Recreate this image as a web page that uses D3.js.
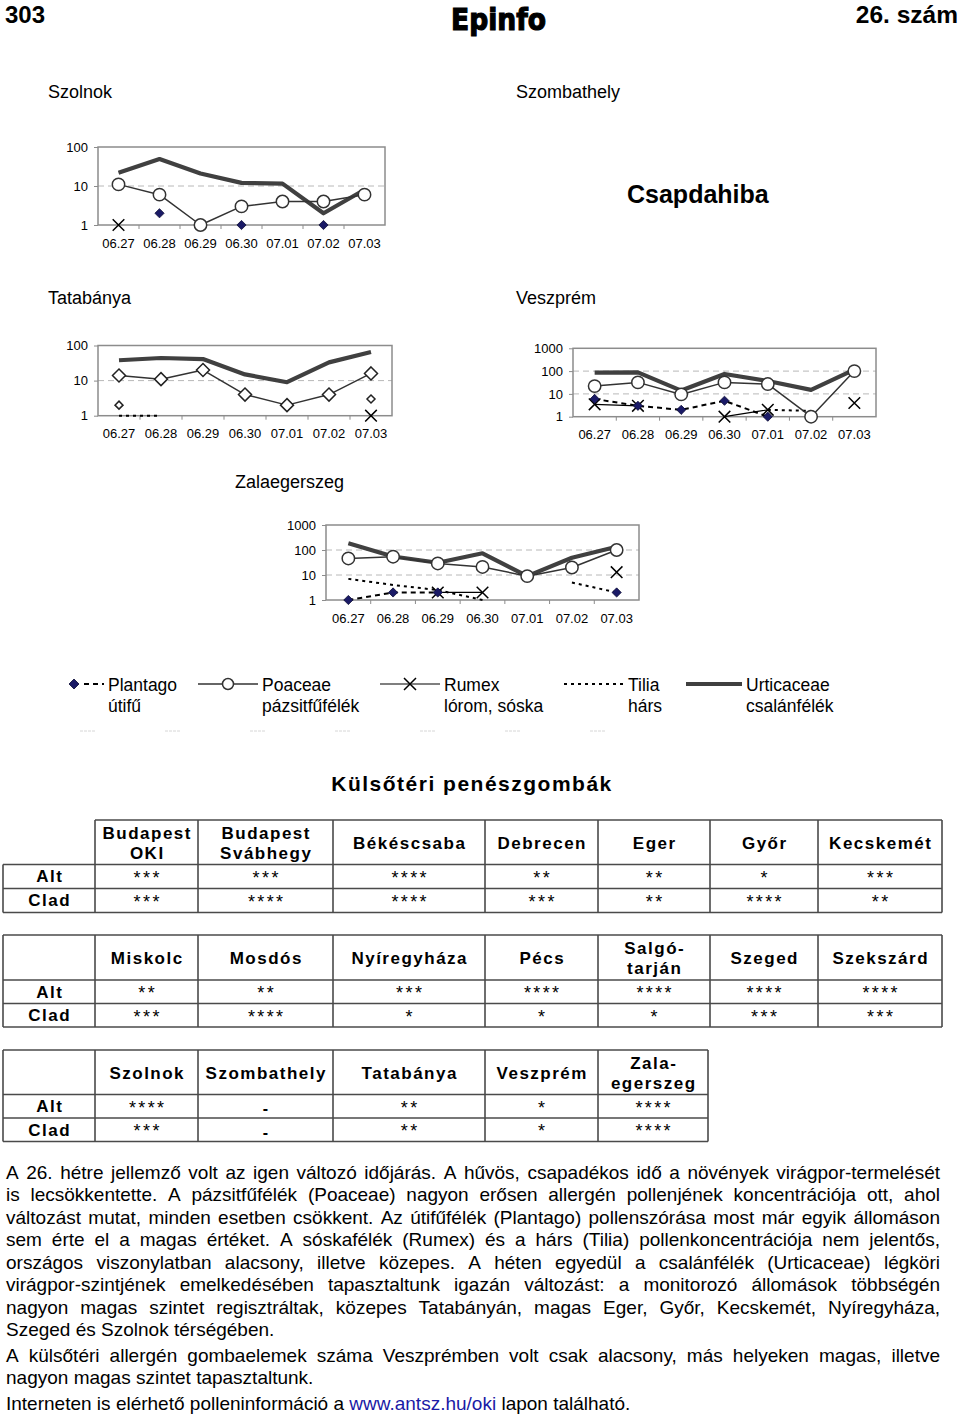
<!DOCTYPE html>
<html><head><meta charset="utf-8">
<script src="https://cdn.jsdelivr.net/npm/d3@7"></script>
<style>
body{margin:0;background:#fff}
svg{display:block}
text{font-family:"Liberation Sans",Arial,Helvetica,sans-serif}
</style>
</head><body>
<svg id="page" width="960" height="1418"></svg>
<script>
// ---------------- DATA ----------------
const dates = ["06.27","06.28","06.29","06.30","07.01","07.02","07.03"];
const yTicks100 = [1,10,100];
const yTicks1000 = [1,10,100,1000];

const szolnokPlantago   = [null,2,null,1,null,1,null];
const szolnokPoaceae    = [11,6,1,3,4,4,6];
const szolnokRumex      = [1,null,null,null,null,null,null];
const szolnokTilia      = [null,null,null,null,null,null,null];
const szolnokUrticaceae = [22,49,21,12,11.5,2,8];

const tatabanyaPlantago   = [2,null,null,null,null,null,3];
const tatabanyaPoaceae    = [14,11,20,4,2,4,16];
const tatabanyaRumex      = [null,null,null,null,null,null,1];
const tatabanyaTilia      = [1,1,null,null,null,null,null];
const tatabanyaUrticaceae = [38,44,41,15,9,33,65];

const veszpremPlantago   = [6,3,2,5,1,null,null];
const veszpremPoaceae    = [22,32,9.5,32,27,1,100];
const veszpremRumex      = [3.5,3,null,1,2,null,4];
const veszpremTilia      = [null,null,null,null,2,1.8,null];
const veszpremUrticaceae = [85,88,14,75,37,15,115];

const zalaPlantago   = [1,2,2,null,null,null,2];
const zalaPoaceae    = [46,54,29,21,9,20,100];
const zalaRumex      = [null,null,2,2,null,null,13];
const zalaTilia      = [7,4,2.5,1,null,5,2];
const zalaUrticaceae = [185,55,31,74,9,49,135];

const legendNames = ["Plantago","Poaceae","Rumex","Tilia","Urticaceae"];
const legendHu    = ["útifű","pázsitfűfélék","lórom, sóska","hárs","csalánfélék"];

const rowLabels = ["Alt","Clad"];
const t1Cities = [["Budapest","OKI"],["Budapest","Svábhegy"],["Békéscsaba"],["Debrecen"],["Eger"],["Győr"],["Kecskemét"]];
const t1Alt  = ["***","***","****","**","**","*","***"];
const t1Clad = ["***","****","****","***","**","****","**"];
const t2Cities = [["Miskolc"],["Mosdós"],["Nyíregyháza"],["Pécs"],["Salgó-","tarján"],["Szeged"],["Szekszárd"]];
const t2Alt  = ["**","**","***","****","****","****","****"];
const t2Clad = ["***","****","*","*","*","***","***"];
const t3Cities = [["Szolnok"],["Szombathely"],["Tatabánya"],["Veszprém"],["Zala-","egerszeg"]];
const t3Alt  = ["****","-","**","*","****"];
const t3Clad = ["***","-","**","*","****"];

const para1 = [
 "A 26. hétre jellemző volt az igen változó időjárás. A hűvös, csapadékos idő a növények virágpor-termelését",
 "is lecsökkentette. A pázsitfűfélék (Poaceae) nagyon erősen allergén pollenjének koncentrációja ott, ahol",
 "változást mutat, minden esetben csökkent. Az útifűfélék (Plantago) pollenszórása most már egyik állomáson",
 "sem érte el a magas értéket. A sóskafélék (Rumex) és a hárs (Tilia) pollenkoncentrációja nem jelentős,",
 "országos viszonylatban alacsony, illetve közepes. A héten egyedül a csalánfélék (Urticaceae) légköri",
 "virágpor-szintjének emelkedésében tapasztaltunk igazán változást: a monitorozó állomások többségén",
 "nagyon magas szintet regisztráltak, közepes Tatabányán, magas Eger, Győr, Kecskemét, Nyíregyháza,",
 "Szeged és Szolnok térségében."
];
const para2 = [
 "A külsőtéri allergén gombaelemek száma Veszprémben volt csak alacsony, más helyeken magas, illetve",
 "nagyon magas szintet tapasztaltunk."
];
const para3 = ["Interneten is elérhető polleninformáció a www.antsz.hu/oki lapon található."];

// ---------------- SETUP ----------------
const svg = d3.select("#page");
const FONT = '"Liberation Sans", Arial, Helvetica, sans-serif';
const tmp = svg.append("text").attr("x",-1000).attr("y",-1000);
function measure(str, size, weight){
  tmp.attr("font-size",size).attr("font-weight",weight||"normal").text(str);
  return tmp.node().getComputedTextLength();
}

// header
svg.append("text").attr("x",5).attr("y",22.5).attr("font-size",24).attr("font-weight","bold").text("303");
svg.append("text").attr("x",958).attr("y",22.5).attr("text-anchor","end").attr("font-size",24.5).attr("font-weight","bold").text("26. szám");
svg.append("text").attr("x",451).attr("y",30).attr("font-size",30).attr("font-weight","bold")
  .attr("stroke","#000").attr("stroke-width",1.2)
  .style("font-family","'DejaVu Sans',sans-serif").attr("textLength",95).attr("lengthAdjust","spacingAndGlyphs").text("Epinfo");

// station titles
const titles = [
  {t:"Szolnok",x:48,y:97.5},{t:"Szombathely",x:516,y:97.5},
  {t:"Tatabánya",x:48,y:303.5},{t:"Veszprém",x:516,y:303.5},
  {t:"Zalaegerszeg",x:235,y:487.5}
];
svg.selectAll(".title").data(titles).join("text").attr("class","title")
  .attr("x",d=>d.x).attr("y",d=>d.y).attr("font-size",18).text(d=>d.t);
svg.append("text").attr("x",627).attr("y",203).attr("font-size",25).attr("font-weight","bold").text("Csapdahiba");

// ---------------- CHARTS ----------------
const seriesStyle = {
  Urticaceae:{stroke:"#404040",width:4.2,dash:null},
  Tilia:{stroke:"#000",width:2,dash:"3,4"},
  Plantago:{stroke:"#000",width:2,dash:"5,4"},
  Rumex:{stroke:"#000",width:1.2,dash:null},
  Poaceae:{stroke:"#333",width:1.5,dash:null}
};
const defaultMarkers = {
  Plantago:{shape:"diamond",size:4.6},
  Rumex:{shape:"x",size:5.8},
  Poaceae:{shape:"circle",size:6.2}
};

function drawMarker(g, shape, size, px, py){
  if(shape==="circle"){
    g.append("circle").attr("cx",px).attr("cy",py).attr("r",size).attr("fill","#fff").attr("stroke","#333").attr("stroke-width",1.5);
  } else if(shape==="diamond"){
    g.append("path").attr("d",`M${px},${py-size}L${px+size},${py}L${px},${py+size}L${px-size},${py}Z`)
      .attr("fill","#1a1a66").attr("stroke","#0a0a33").attr("stroke-width",0.8);
  } else if(shape==="odiamond"){
    g.append("path").attr("d",`M${px},${py-size}L${px+size},${py}L${px},${py+size}L${px-size},${py}Z`)
      .attr("fill","#fff").attr("stroke","#222").attr("stroke-width",1.5);
  } else if(shape==="x"){
    g.append("path").attr("d",`M${px-size},${py-size}L${px+size},${py+size}M${px-size},${py+size}L${px+size},${py-size}`)
      .attr("stroke","#000").attr("stroke-width",1.5).attr("fill","none");
  }
}

const charts = [
  {series:{Plantago:szolnokPlantago,Poaceae:szolnokPoaceae,Rumex:szolnokRumex,Tilia:szolnokTilia,Urticaceae:szolnokUrticaceae},
   ticks:yTicks100,left:98,right:385,top:147,bottom:225,markers:{}},
  {series:{Plantago:tatabanyaPlantago,Poaceae:tatabanyaPoaceae,Rumex:tatabanyaRumex,Tilia:tatabanyaTilia,Urticaceae:tatabanyaUrticaceae},
   ticks:yTicks100,left:98,right:392,top:345.5,bottom:415.7,
   markers:{Poaceae:{shape:"odiamond",size:6.5},Plantago:{shape:"odiamond",size:4}}},
  {series:{Plantago:veszpremPlantago,Poaceae:veszpremPoaceae,Rumex:veszpremRumex,Tilia:veszpremTilia,Urticaceae:veszpremUrticaceae},
   ticks:yTicks1000,left:573,right:876,top:348.3,bottom:416.7,markers:{}},
  {series:{Plantago:zalaPlantago,Poaceae:zalaPoaceae,Rumex:zalaRumex,Tilia:zalaTilia,Urticaceae:zalaUrticaceae},
   ticks:yTicks1000,left:326,right:639,top:525,bottom:600,markers:{}}
];

function drawChart(c){
  const g = svg.append("g");
  const x = d3.scaleBand().domain(dates).range([c.left,c.right]);
  const cx = d => x(d) + x.bandwidth()/2;
  const y = d3.scaleLog().domain([1,c.ticks[c.ticks.length-1]]).range([c.bottom,c.top]);
  g.selectAll(".grid").data(c.ticks.slice(1,-1)).join("line")
    .attr("x1",c.left).attr("x2",c.right).attr("y1",d=>y(d)).attr("y2",d=>y(d))
    .attr("stroke","#b8b8b8").attr("stroke-width",1).attr("stroke-dasharray","6,4");
  g.append("rect").attr("x",c.left).attr("y",c.top).attr("width",c.right-c.left).attr("height",c.bottom-c.top)
    .attr("fill","none").attr("stroke","#8c8c8c").attr("stroke-width",1.5);
  const ya = g.append("g").attr("transform",`translate(${c.left},0)`)
    .call(d3.axisLeft(y).tickValues(c.ticks).tickFormat(d3.format("d")).tickSize(4).tickPadding(6));
  ya.select(".domain").remove();
  ya.selectAll("line").attr("stroke","#8c8c8c");
  ya.selectAll("text").attr("font-size",13).style("font-family",FONT).attr("fill","#000");
  const xa = g.append("g").attr("transform",`translate(0,${c.bottom})`)
    .call(d3.axisBottom(x).tickSize(0).tickPadding(13.5));
  xa.select(".domain").remove();
  xa.selectAll("text").attr("font-size",13).style("font-family",FONT).attr("fill","#000");
  g.selectAll(".xt").data(dates.slice(1)).join("line")
    .attr("x1",d=>x(d)).attr("x2",d=>x(d)).attr("y1",c.bottom).attr("y2",c.bottom+4).attr("stroke","#8c8c8c");

  ["Urticaceae","Tilia","Plantago","Rumex","Poaceae"].forEach(name=>{
    const st = seriesStyle[name];
    const pts = dates.map((d,i)=>({d,v:c.series[name][i]}));
    const line = d3.line().defined(p=>p.v!=null).x(p=>cx(p.d)).y(p=>y(p.v));
    g.append("path").attr("d",line(pts)).attr("fill","none").attr("stroke",st.stroke)
      .attr("stroke-width",st.width).attr("stroke-dasharray",st.dash).attr("stroke-linejoin","round");
  });
  ["Rumex","Poaceae","Plantago"].forEach(name=>{
    const m = c.markers[name] || defaultMarkers[name];
    dates.forEach((d,i)=>{
      const v = c.series[name][i];
      if(v!=null) drawMarker(g,m.shape,m.size,cx(d),y(v));
    });
  });
}
charts.forEach(drawChart);

// ---------------- LEGEND ----------------
const legendItems = [
  {x1:84,x2:104,mx:74,tx:108},
  {x1:198,x2:258,mx:228,tx:262},
  {x1:380,x2:440,mx:410,tx:444},
  {x1:564,x2:624,mx:null,tx:628},
  {x1:686,x2:742,mx:null,tx:746}
];
const ly = 684;
const legendMarkerSize = {Plantago:5,Poaceae:5.5,Rumex:6};
legendNames.forEach((name,i)=>{
  const it = legendItems[i], st = seriesStyle[name];
  svg.append("line").attr("x1",it.x1).attr("x2",it.x2).attr("y1",ly).attr("y2",ly)
    .attr("stroke",st.stroke).attr("stroke-width",st.width).attr("stroke-dasharray",st.dash);
  if(defaultMarkers[name]) drawMarker(svg,defaultMarkers[name].shape,legendMarkerSize[name],it.mx,ly);
  svg.append("text").attr("x",it.tx).attr("y",690.5).attr("font-size",17.5).text(name);
  svg.append("text").attr("x",it.tx).attr("y",711.5).attr("font-size",17.5).text(legendHu[i]);
});
// faint artifacts
[80,165,250,335,420,505,590].forEach(x0=>{
  svg.append("line").attr("x1",x0).attr("x2",x0+15).attr("y1",731).attr("y2",731)
    .attr("stroke","#d6d6d6").attr("stroke-width",1).attr("stroke-dasharray","3,1");
});

// ---------------- TABLES ----------------
svg.append("text").attr("x",472).attr("y",791).attr("text-anchor","middle").attr("font-size",21)
  .attr("font-weight","bold").attr("letter-spacing",1.5).text("Külsőtéri penészgombák");

function drawTable(cities, alt, clad, edges, top, hb, r1, r2, corner){
  const g = svg.append("g");
  const L = 3, R = edges[edges.length-1];
  const ls = {stroke:"#4a4a4a","stroke-width":1.6};
  const hl = (x1,x2,yy)=>{const l=g.append("line").attr("x1",x1).attr("x2",x2).attr("y1",yy).attr("y2",yy);Object.entries(ls).forEach(([k,v])=>l.attr(k,v));};
  const vl = (xx,y1,y2)=>{const l=g.append("line").attr("x1",xx).attr("x2",xx).attr("y1",y1).attr("y2",y2);Object.entries(ls).forEach(([k,v])=>l.attr(k,v));};
  hl(corner?L:edges[0],R,top); hl(L,R,hb); hl(L,R,r1); hl(L,R,r2);
  vl(L,corner?top:hb,r2);
  edges.forEach(e=>vl(e,top,r2));
  cities.forEach((lines,i)=>{
    const cxm = (edges[i]+edges[i+1])/2;
    const t = g.append("text").attr("text-anchor","middle").attr("font-size",17).attr("font-weight","bold").attr("letter-spacing",1.5);
    if(lines.length===1){
      t.append("tspan").attr("x",cxm+0.75).attr("y",top+29).text(lines[0]);
    } else {
      t.append("tspan").attr("x",cxm+0.75).attr("y",top+19).text(lines[0]);
      t.append("tspan").attr("x",cxm+0.75).attr("y",top+39).text(lines[1]);
    }
    [[alt,hb],[clad,r1]].forEach(([arr,ry])=>{
      const v = arr[i];
      const dash = v==="-";
      g.append("text").attr("x",cxm+(dash?0:1.2)).attr("y",ry+(dash?19.5:19)).attr("text-anchor","middle")
        .attr("font-size",dash?16:18).attr("letter-spacing",dash?0:2.4).attr("font-weight",dash?"bold":"normal").text(v);
    });
  });
  [[rowLabels[0],hb],[rowLabels[1],r1]].forEach(([lab,ry])=>{
    g.append("text").attr("x",(L+edges[0])/2+0.75).attr("y",ry+17.5).attr("text-anchor","middle")
      .attr("font-size",17).attr("font-weight","bold").attr("letter-spacing",1.5).text(lab);
  });
}
const edges12 = [95,198,333,485,598,710,818,942];
const edges3 = [95,198,333,485,598,708];
drawTable(t1Cities,t1Alt,t1Clad,edges12,820,864.5,888.5,912.5,false);
drawTable(t2Cities,t2Alt,t2Clad,edges12,935,980,1003.5,1027,true);
drawTable(t3Cities,t3Alt,t3Clad,edges3,1050,1094.5,1118,1141.5,true);

// ---------------- TEXT ----------------
const TS = 19, TX0 = 6, TX1 = 940;
function textLine(str, yb, justify){
  const words = str.split(" ");
  const widths = words.map(w=>measure(w,TS));
  const sum = d3.sum(widths);
  const spaceW = measure("a b",TS) - measure("ab",TS);
  let gap = spaceW, k = 1;
  if(justify){
    gap = (TX1-TX0-sum)/(words.length-1);
    if(gap < spaceW*0.7){ k = (TX1-TX0)/(sum+spaceW*(words.length-1)); gap = spaceW; }
  }
  const t = svg.append("text").attr("font-size",TS).attr("transform",`translate(${TX0},${yb}) scale(${k},1)`);
  let xx = 0;
  words.forEach((w,i)=>{
    t.append("tspan").attr("x",xx).attr("y",0).attr("fill",w.startsWith("www.")?"#1a1aa6":"#000").text(w);
    xx += widths[i]+gap;
  });
}
function paragraph(lines, y0){
  lines.forEach((l,i)=>textLine(l, y0+i*22.45, i<lines.length-1));
}
paragraph(para1,1179);
paragraph(para2,1362);
paragraph(para3,1410);
tmp.remove();
</script>
</body></html>
